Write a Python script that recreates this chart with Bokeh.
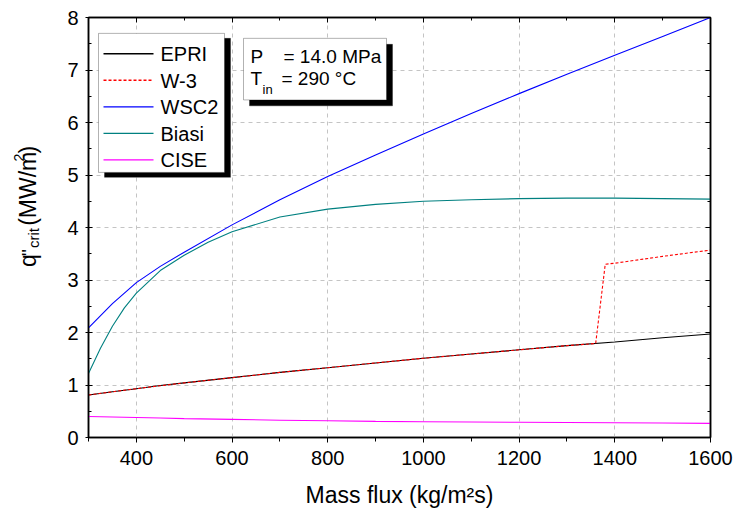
from math import pi
from bokeh.plotting import figure
from bokeh.layouts import row
from bokeh.core.properties import value
from bokeh.models import Range1d, FixedTicker, LinearAxis, BoxAnnotation, Label
from bokeh.embed import file_html
from bokeh.resources import INLINE

# ---------------- data ----------------
mass_flux = [300, 350, 400, 450, 500, 600, 700, 800, 900, 1000, 1100, 1200, 1300, 1400, 1500, 1600]
epri  = [0.81, 0.87, 0.93, 0.99, 1.04, 1.14, 1.24, 1.33, 1.42, 1.51, 1.59, 1.67, 1.75, 1.82, 1.90, 1.97]
wsc2  = [2.09, 2.55, 2.95, 3.26, 3.53, 4.05, 4.53, 4.97, 5.38, 5.78, 6.17, 6.55, 6.92, 7.28, 7.64, 8.00]
cise  = [0.40, 0.39, 0.38, 0.37, 0.36, 0.345, 0.33, 0.318, 0.308, 0.30, 0.295, 0.29, 0.285, 0.28, 0.275, 0.27]

biasi_flux = [300, 325, 350, 375, 400, 450, 500, 550, 600, 700, 800, 900, 1000, 1100, 1200, 1300, 1400, 1500, 1600]
biasi      = [1.22, 1.70, 2.12, 2.47, 2.75, 3.18, 3.47, 3.72, 3.92, 4.20, 4.35, 4.44, 4.50, 4.53, 4.55, 4.56, 4.56, 4.55, 4.54]

w3_flux = [300, 400, 500, 600, 700, 800, 900, 1000, 1100, 1200, 1300, 1360, 1380, 1400, 1500, 1600]
w3      = [0.81, 0.93, 1.04, 1.14, 1.24, 1.33, 1.42, 1.51, 1.59, 1.67, 1.75, 1.79, 3.30, 3.32, 3.45, 3.57]

series_names  = ["EPRI", "W-3", "WSC2", "Biasi", "CISE"]
series_colors = ["black", "red", "#0000ff", "#008080", "#ff00ff"]
series_dashes = ["solid", "3 2", "solid", "solid", "solid"]

x_major = [400, 600, 800, 1000, 1200, 1400, 1600]
x_minor = [300, 400, 500, 600, 700, 800, 900, 1000, 1100, 1200, 1300, 1400, 1500, 1600]
y_major = [0, 1, 2, 3, 4, 5, 6, 7, 8]
y_minor = [0.5 * i for i in range(17)]

FONT = "Liberation Sans"
H = 510          # canvas height
LW = 46          # width of the strip holding the rotated y title
MAIN_W = 691     # width of the main figure
TXT_SHIFT = 6.5  # empirical baseline correction for hand-placed text

# ---------------- main figure ----------------
p = figure(width=MAIN_W, height=H,
           min_border_left=42, min_border_right=27, min_border_top=17, min_border_bottom=70,
           x_range=Range1d(300, 1600), y_range=Range1d(0, 8),
           output_backend="svg", toolbar_location=None, tools="")
p.background_fill_color = "white"
p.border_fill_color = "white"
p.outline_line_color = "black"
p.outline_line_width = 1.5

# helper: image px -> data (frame left=88, right=710, top=17, bottom=440 in image px)
def X(px):
    return 300 + (px - 88) * 1300.0 / 622.0

def Y(py):
    return (440 - py) * 8.0 / 423.0

xt = FixedTicker(ticks=x_major, minor_ticks=x_minor)
yt = FixedTicker(ticks=y_major, minor_ticks=y_minor)
for ax in p.xaxis:
    ax.ticker = xt
for ax in p.yaxis:
    ax.ticker = yt

for ax in p.axis:
    ax.axis_line_width = 1.5
    ax.axis_line_color = "black"
    ax.major_tick_line_color = "black"
    ax.minor_tick_line_color = "black"
    ax.major_label_text_font = FONT
    ax.major_label_text_font_size = "20px"
    ax.major_label_text_color = "black"

p.xaxis.major_tick_out = 5
p.xaxis.major_tick_in = 0
p.xaxis.minor_tick_out = 4
p.xaxis.minor_tick_in = 0
p.xaxis.major_label_standoff = 8
p.xaxis.axis_label = "Mass flux (kg/m²s)"
p.xaxis.axis_label_text_font = FONT
p.xaxis.axis_label_text_font_size = "23px"
p.xaxis.axis_label_text_font_style = "normal"
p.xaxis.axis_label_text_color = "black"
p.xaxis.axis_label_standoff = 14

p.yaxis.major_tick_out = 3
p.yaxis.major_tick_in = 4
p.yaxis.minor_tick_out = 0
p.yaxis.minor_tick_in = 3
p.yaxis.major_label_standoff = 7

top_ax = LinearAxis(ticker=xt, major_label_text_font_size="0px", major_tick_in=5, major_tick_out=0,
                    minor_tick_in=3, minor_tick_out=0, axis_line_width=1.5)
right_ax = LinearAxis(ticker=yt, major_label_text_font_size="0px", major_tick_in=5, major_tick_out=0,
                      minor_tick_in=3, minor_tick_out=0, axis_line_width=1.5)
p.add_layout(top_ax, "above")
p.add_layout(right_ax, "right")

for g in p.grid:
    g.grid_line_color = "#c4c4c4"
    g.grid_line_dash = "4 4"
    g.grid_line_width = 1
p.xgrid.ticker = FixedTicker(ticks=x_major)
p.ygrid.ticker = FixedTicker(ticks=y_major[1:-1])

# ---------------- series ----------------
series_data = [(mass_flux, epri), (w3_flux, w3), (mass_flux, wsc2), (biasi_flux, biasi), (mass_flux, cise)]
for (xs, ys), col, dash in zip(series_data, series_colors, series_dashes):
    p.line(xs, ys, line_color=col, line_width=1.1, line_dash=dash)

# ---------------- legend box with shadow (drawn by hand, under its glyphs) ----------------
leg_L, leg_R, leg_T, leg_B = 98, 224, 33, 173
p.add_layout(BoxAnnotation(left=X(leg_L + 6), right=X(leg_R + 6), top=Y(leg_T + 5), bottom=Y(leg_B + 5),
                           fill_color="black", fill_alpha=1, line_color="black", level="underlay"))
p.add_layout(BoxAnnotation(left=X(leg_L), right=X(leg_R), top=Y(leg_T), bottom=Y(leg_B),
                           fill_color="white", fill_alpha=1, line_color="black", line_width=1,
                           level="underlay"))
row_y = [53.5, 80.2, 107.0, 133.7, 160.4]   # image px of legend rows
for name, col, dash, ry in zip(series_names, series_colors, series_dashes, row_y):
    p.line([X(103), X(153)], [Y(ry), Y(ry)], line_color=col, line_width=1.3, line_dash=dash)
p.text(x=[X(160)] * len(series_names), y=[Y(ry + 7 - TXT_SHIFT) for ry in row_y], text=series_names,
       text_font=value(FONT), text_font_size=value("20px"), text_color="black",
       text_align="left", text_baseline="alphabetic")

# ---------------- condition box with shadow ----------------
bx_L, bx_R, bx_T, bx_B = 243, 386, 38, 100
p.add_layout(BoxAnnotation(left=X(bx_L + 6), right=X(bx_R + 6), top=Y(bx_T + 6), bottom=Y(bx_B + 6),
                           fill_color="black", fill_alpha=1, line_color="black"))
p.add_layout(BoxAnnotation(left=X(bx_L), right=X(bx_R), top=Y(bx_T), bottom=Y(bx_B),
                           fill_color="white", fill_alpha=1, line_color="black", line_width=1))

def lab(txt, px, py, size):
    p.add_layout(Label(x=X(px), y=Y(py - TXT_SHIFT), text=txt, text_font=FONT,
                       text_font_size=size, text_color="black",
                       text_align="left", text_baseline="alphabetic"))

lab("P", 250, 63, "19px")
lab("= 14.0 MPa", 283, 63, "19px")
lab("T", 250, 85, "19px")
lab("in", 262, 96, "13px")
lab("= 290 °C", 281, 85, "19px")

# ---------------- y-axis title strip (rotated text pieces) ----------------
yl = figure(width=LW, height=H, x_range=Range1d(0, LW), y_range=Range1d(0, H),
            x_axis_location=None, y_axis_location=None,
            min_border=0, output_backend="svg", toolbar_location=None, tools="")
yl.grid.visible = False
yl.outline_line_color = None
yl.background_fill_color = "white"
yl.border_fill_color = "white"

def ylab(txt, ix, iy, size):
    # ix, iy are image pixels -> strip coordinates (y up)
    yl.text(x=[ix - TXT_SHIFT], y=[H - iy], text=[txt], angle=pi / 2,
            text_font=value(FONT), text_font_size=value(size), text_color="black",
            text_align="left", text_baseline="alphabetic")

ylab("q", 34, 303, "23px")
ylab("''", 34, 290, "19px")
ylab("crit", 39, 280, "15px")
ylab("(MW/m", 34, 253, "23px")
ylab("2", 25, 175, "14px")
ylab(")", 34, 165, "23px")

layout = row(yl, p, spacing=0)
open("out.html", "w").write(file_html(layout, INLINE))
